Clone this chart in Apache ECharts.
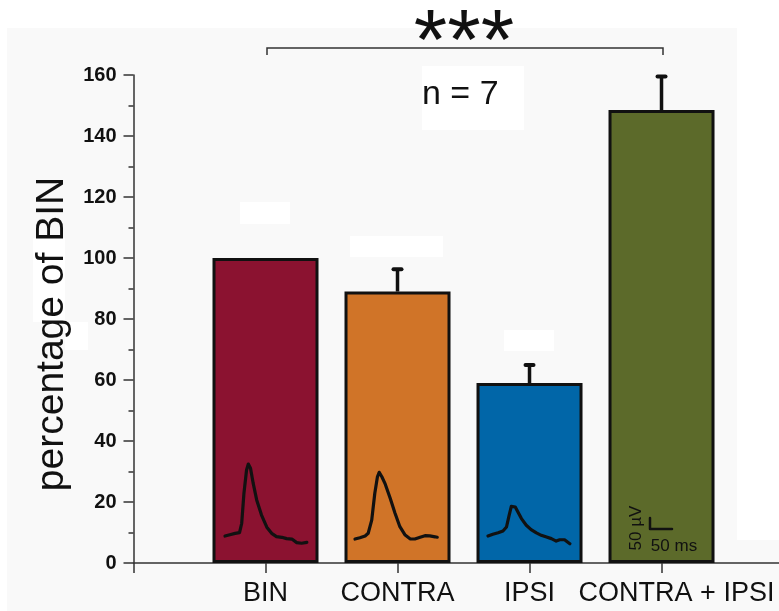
<!DOCTYPE html>
<html><head><meta charset="utf-8">
<script src="https://cdn.jsdelivr.net/npm/echarts@6/dist/echarts.min.js"></script>
<style>html,body{margin:0;padding:0;background:#fff}#c{width:779px;height:611px}</style>
</head><body><div id="c"></div>
<script>
// ---- data ----
const categories = ['BIN', 'CONTRA', 'IPSI', 'CONTRA + IPSI'];
const categoryPos = [1, 2, 3, 4];
const meanValues = [100, 89, 59, 148.5];
const errorTops = [null, 96.3, 64.9, 159.5];
const barColors = ['#8b1230', '#d07428', '#0166a8', '#5c6a2a'];
const yTicks = [0, 20, 40, 60, 80, 100, 120, 140, 160];
// example traces: [time (ms), amplitude (µV)]
const traceBIN = [[0,0],[11,6],[23,12],[33,15],[38,58],[43,194],[49,300],[53,327],[58,308],[64,240],[72,164],[83,95],[95,40],[106,12],[117,-3],[129,-6],[140,-12],[152,-14],[163,-30],[174,-33],[186,-29]];
const traceCONTRA = [[0,0],[11,6],[23,14],[30,26],[38,86],[45,208],[51,283],[55,303],[61,283],[68,253],[80,185],[91,117],[102,56],[114,18],[125,1],[136,0],[148,8],[159,15],[170,14],[182,10],[187,8]];
const traceIPSI = [[0,0],[11,8],[23,15],[34,23],[42,41],[48,94],[53,135],[57,144],[62,132],[68,109],[76,79],[87,49],[98,29],[110,14],[121,3],[133,-5],[144,-12],[155,-23],[163,-17],[174,-17],[186,-35]];
const scaleBar = [[0,50],[0,0],[50,0]]; // 50 µV / 50 ms
const nLabel = 'n = 7';
const sigLabel = '***';

const FONT = '"Liberation Sans", Arial, sans-serif';
const chart = echarts.init(document.getElementById('c'));

const barData = meanValues.map((v, i) => ({
  value: [categoryPos[i], v],
  itemStyle: { color: barColors[i], borderColor: '#111', borderWidth: 3 }
}));
const errData = [];
errorTops.forEach((t, i) => { if (t != null) errData.push([categoryPos[i], meanValues[i], t]); });

function traceGrid(left, top) { return { left: left, top: top, width: 88, height: 88 }; }
const traceX = i => ({ gridIndex: i, type: 'value', min: 0, max: 200, show: false });
const traceY = i => ({ gridIndex: i, type: 'value', min: -50, max: 350, show: false });
const traceLine = (i, data, w) => ({
  type: 'line', xAxisIndex: i, yAxisIndex: i, data: data, symbol: 'none', z: 5,
  lineStyle: { color: '#111', width: w, cap: 'round', join: 'round' }, silent: true
});

chart.setOption({
  backgroundColor: '#ffffff',
  animation: false,
  grid: [
    { left: 133.5, right: 0, top: 75, height: 488 },
    traceGrid(225, 459),
    traceGrid(355, 462),
    traceGrid(488, 459),
    traceGrid(650, 452)
  ],
  xAxis: [
    {
      type: 'value', min: 0, max: 4.89,
      axisLine: { show: true, onZero: false, lineStyle: { color: '#333', width: 1.5 } },
      axisTick: { show: true, length: 10, customValues: [0].concat(categoryPos), lineStyle: { color: '#333', width: 1.5 } },
      axisLabel: {
        color: '#111', fontSize: 27, fontFamily: FONT, margin: 17,
        customValues: categoryPos,
        formatter: v => {
          const k = categoryPos.indexOf(Math.round(v));
          if (k < 0) return '';
          return k === categories.length - 1 ? '{r|' + categories[k] + '}' : categories[k];
        },
        rich: { r: { fontSize: 27, fontFamily: FONT, color: '#111', padding: [0, 0, 0, 30] } }
      },
      splitLine: { show: false }
    },
    traceX(1), traceX(2), traceX(3), traceX(4)
  ],
  yAxis: [
    {
      type: 'value', min: 0, max: 160, interval: 20,
      name: 'percentage of BIN', nameLocation: 'middle', nameRotate: 90, nameGap: 60,
      nameTextStyle: { fontSize: 39, fontFamily: FONT, color: '#111', padding: [0, 30, 0, 0] },
      axisLine: { show: true, lineStyle: { color: '#333', width: 1.5 } },
      axisTick: { show: true, length: 10, lineStyle: { color: '#333', width: 1.5 } },
      minorTick: { show: true, splitNumber: 2, length: 5, lineStyle: { color: '#333', width: 1.5 } },
      axisLabel: { color: '#111', fontSize: 20, fontWeight: 'bold', fontFamily: FONT, margin: 17 },
      splitLine: { show: false }
    },
    traceY(1), traceY(2), traceY(3), traceY(4)
  ],
  graphic: [
    { type: 'rect', z: -10, shape: { x: 7, y: 28, width: 730, height: 583 }, style: { fill: '#f9f9f9' } },
    { type: 'rect', z: -10, shape: { x: 737, y: 540, width: 42, height: 71 }, style: { fill: '#f9f9f9' } },
    { type: 'rect', z: -9, shape: { x: 240, y: 202, width: 50, height: 22 }, style: { fill: '#ffffff' } },
    { type: 'rect', z: -9, shape: { x: 350, y: 236, width: 93, height: 21 }, style: { fill: '#ffffff' } },
    { type: 'rect', z: -9, shape: { x: 504, y: 330, width: 50, height: 21 }, style: { fill: '#ffffff' } },
    { type: 'rect', z: -9, shape: { x: 33, y: 238, width: 32, height: 84 }, style: { fill: '#ffffff' } },
    { type: 'rect', z: -9, shape: { x: 65, y: 322, width: 23, height: 28 }, style: { fill: '#ffffff' } },
    { type: 'rect', z: -9, shape: { x: 422, y: 66, width: 102, height: 64 }, style: { fill: '#ffffff' } },
    { type: 'text', z: 10, left: 422, top: 78, style: { text: nLabel, font: '34px ' + FONT, fill: '#111' } },
    { type: 'polyline', z: 10, shape: { points: [[267, 55], [267, 48], [663, 48], [663, 55]] }, style: { stroke: '#333', lineWidth: 1.5, fill: null } },
    { type: 'text', z: 10, x: 464, y: 2, style: { text: sigLabel, font: '86px ' + FONT, fill: '#111', textAlign: 'center', textVerticalAlign: 'top' } },
    { type: 'text', z: 10, x: 636, y: 528, rotation: Math.PI / 2, style: { text: '50 µV', font: '17px ' + FONT, fill: '#111', textAlign: 'center', textVerticalAlign: 'middle' } },
    { type: 'text', z: 10, x: 674, y: 546, style: { text: '50 ms', font: '17px ' + FONT, fill: '#111', textAlign: 'center', textVerticalAlign: 'middle' } }
  ],
  series: [
    {
      type: 'bar', data: barData, barWidth: 106, z: 3, silent: true
    },
    {
      type: 'custom', data: errData, z: 2, silent: true,
      renderItem: function (params, api) {
        const x = api.value(0);
        const p0 = api.coord([x, api.value(1)]);
        const p1 = api.coord([x, api.value(2)]);
        return {
          type: 'group', children: [
            { type: 'line', shape: { x1: p0[0], y1: p0[1], x2: p1[0], y2: p1[1] }, style: { stroke: '#111', lineWidth: 3.5 } },
            { type: 'line', shape: { x1: p1[0] - 4, y1: p1[1], x2: p1[0] + 4, y2: p1[1] }, style: { stroke: '#111', lineWidth: 4, lineCap: 'round' } }
          ]
        };
      }
    },
    traceLine(1, traceBIN, 3.2),
    traceLine(2, traceCONTRA, 3.2),
    traceLine(3, traceIPSI, 3.2),
    traceLine(4, scaleBar, 2.5)
  ]
});
</script>
</body></html>
